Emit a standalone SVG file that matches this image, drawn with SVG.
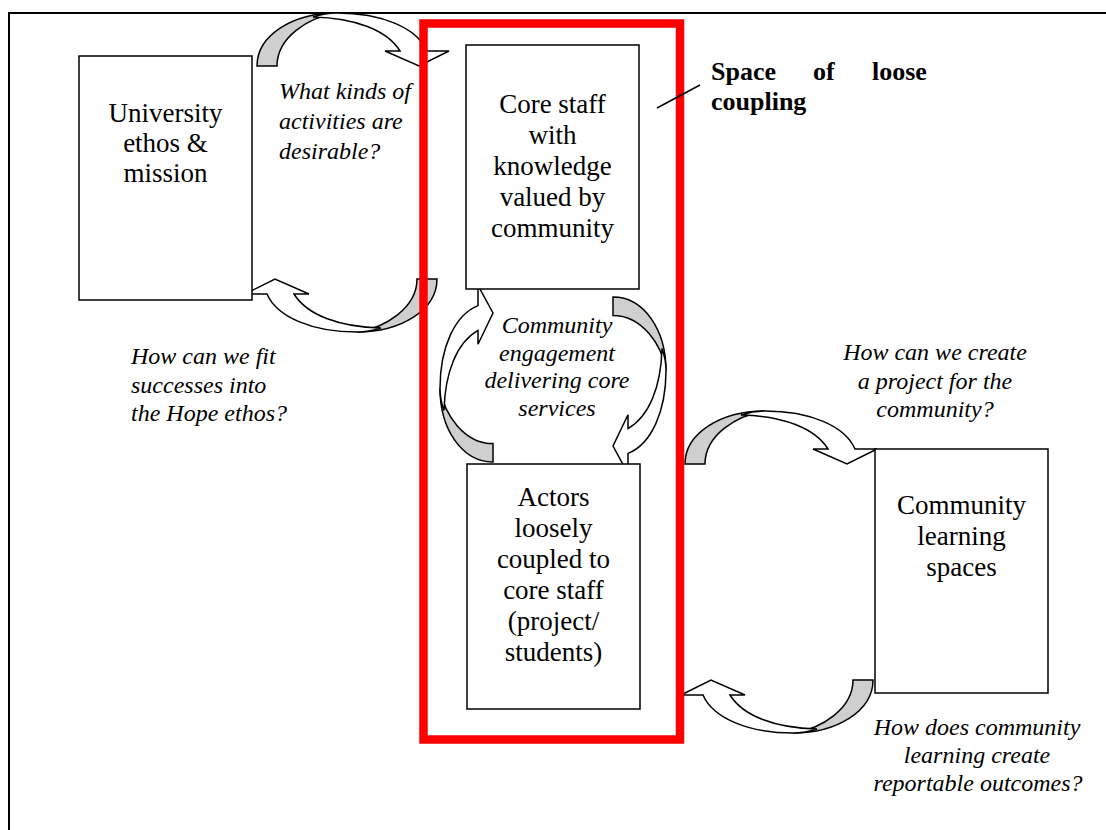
<svg xmlns="http://www.w3.org/2000/svg" width="1106" height="830" viewBox="0 0 1106 830">
  <style>
    .frame{fill:none;stroke:#000;stroke-width:2}
    .box{fill:#fff;stroke:#000;stroke-width:1.5}
    .t{font-family:"Liberation Serif","Times New Roman",serif;font-size:27px;fill:#000;text-anchor:middle}
    .q{font-family:"Liberation Serif","Times New Roman",serif;font-size:24px;font-style:italic;fill:#000}
    .qm{text-anchor:middle}
    .b{font-family:"Liberation Serif","Times New Roman",serif;font-size:26px;font-weight:bold;fill:#000}
    .back{fill:#cfcfcf;stroke:#000;stroke-width:1.5;stroke-linejoin:miter}
    .front{fill:#fff;stroke:#000;stroke-width:1.5;stroke-linejoin:miter}
    .zone{fill:none;stroke:#ff0000;stroke-width:8.5}
  </style>
  <defs>
    <!-- curved block arrow: tail at lower left, arc over the top, head pointing down on the right -->
    <g id="curved-arrow">
      <path class="back" vector-effect="non-scaling-stroke" d="M0,53 C0,22 36,0 80,0 C52,4 20,24 20,53 Z"/>
      <path class="front" vector-effect="non-scaling-stroke" d="M56,4 Q68,0 80,0 C125,0 160,15 170,38 L192,38 L162,53 L128,38 L143,38 C130,17 98,5 56,4 Z"/>
    </g>
  </defs>

  <rect class="frame" x="9" y="13" width="1200" height="900"/>

  <g id="connectors">
    <use href="#curved-arrow" transform="translate(257,13)"/>
    <use href="#curved-arrow" transform="matrix(-1,0,0,-1,437,332)"/>
    <use href="#curved-arrow" transform="matrix(0,-0.92,1,0,440,462)"/>
    <use href="#curved-arrow" transform="matrix(0,0.92,-1,0,666,297)"/>
    <use href="#curved-arrow" transform="translate(685,411)"/>
    <use href="#curved-arrow" transform="matrix(-1,0,0,-1,873,733)"/>
  </g>

  <g id="connector-labels">
    <text class="q" x="279" y="99">What kinds of</text>
    <text class="q" x="279" y="129">activities are</text>
    <text class="q" x="279" y="159">desirable?</text>

    <text class="q" x="131" y="364">How can we fit</text>
    <text class="q" x="131" y="393">successes into</text>
    <text class="q" x="131" y="421">the Hope ethos?</text>

    <text class="q qm" x="557" y="333">Community</text>
    <text class="q qm" x="557" y="361">engagement</text>
    <text class="q qm" x="557" y="388">delivering core</text>
    <text class="q qm" x="557" y="416">services</text>

    <text class="q qm" x="935" y="360">How can we create</text>
    <text class="q qm" x="935" y="389">a project for the</text>
    <text class="q qm" x="935" y="417">community?</text>

    <text class="q qm" x="977" y="735">How does community</text>
    <text class="q qm" x="977" y="763">learning create</text>
    <text class="q qm" x="978" y="791">reportable outcomes?</text>
  </g>

  <g id="node-university">
    <rect class="box" x="79" y="56" width="173" height="244"/>
    <text class="t" x="165.5" y="122">University</text>
    <text class="t" x="165.5" y="152">ethos &amp;</text>
    <text class="t" x="165.5" y="182">mission</text>
  </g>

  <g id="node-core-staff">
    <rect class="box" x="466" y="45" width="173" height="244"/>
    <text class="t" x="552.5" y="113">Core staff</text>
    <text class="t" x="552.5" y="144">with</text>
    <text class="t" x="552.5" y="175">knowledge</text>
    <text class="t" x="552.5" y="206">valued by</text>
    <text class="t" x="552.5" y="237">community</text>
  </g>

  <g id="node-actors">
    <rect class="box" x="467" y="464" width="173" height="245"/>
    <text class="t" x="553.5" y="506">Actors</text>
    <text class="t" x="553.5" y="537">loosely</text>
    <text class="t" x="553.5" y="568">coupled to</text>
    <text class="t" x="553.5" y="599">core staff</text>
    <text class="t" x="553.5" y="630">(project/</text>
    <text class="t" x="553.5" y="661">students)</text>
  </g>

  <g id="node-community">
    <rect class="box" x="875" y="449" width="173" height="244"/>
    <text class="t" x="961.5" y="514">Community</text>
    <text class="t" x="961.5" y="545">learning</text>
    <text class="t" x="961.5" y="576">spaces</text>
  </g>

  <g id="node-loose-coupling">
    <rect class="zone" x="423.5" y="23.5" width="256.5" height="716"/>
    <line x1="657" y1="108" x2="700" y2="85" stroke="#000" stroke-width="1.5"/>
    <text class="b" x="711" y="80">Space</text>
    <text class="b" x="813" y="80">of</text>
    <text class="b" x="872" y="80">loose</text>
    <text class="b" x="711" y="110">coupling</text>
  </g>
</svg>
